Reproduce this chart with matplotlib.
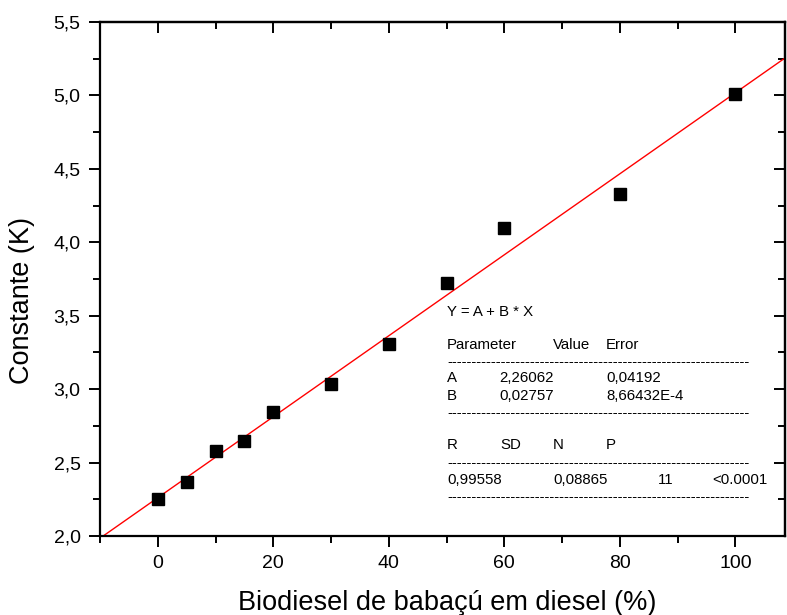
import numpy as np
import matplotlib
matplotlib.use("Agg")
import matplotlib.pyplot as plt
from matplotlib.ticker import MultipleLocator, FuncFormatter

### Data ###
biodiesel = [0, 5, 10, 15, 20, 30, 40, 50, 60, 80, 100]
constante = [2.25, 2.37, 2.58, 2.645, 2.845, 3.035, 3.31, 3.72, 4.10, 4.33, 5.01]

A, B = 2.26062, 0.02757
fit_x = [-10, 110]

table_rows = [
    ("A", "2,26062", "0,04192"),
    ("B", "0,02757", "8,66432E-4"),
]
stats_head = ["R", "SD", "N", "P"]
stats_vals = ["0,99558", "0,08865", "11", "<0.0001"]

plt.rcParams['font.family'] = ['Liberation Sans', 'DejaVu Sans']


def comma(v, pos):
    return ("%.1f" % v).replace(".", ",")


def main():
    fig = plt.figure(figsize=(7.87, 6.15), dpi=100)
    ax = fig.add_axes([100/787, 1 - 536/615, 685/787, 514/615])

    xf = np.array(fit_x, dtype=float)
    ax.plot(xf, A + B * xf, color='red', lw=1.0, zorder=2)
    ax.plot(biodiesel, constante, 's', color='black', ms=8, zorder=3)

    ax.set_xlim(-10, 108.6)
    ax.set_ylim(2.0, 5.5)
    ax.xaxis.set_major_locator(MultipleLocator(20))
    ax.xaxis.set_minor_locator(MultipleLocator(10))
    ax.yaxis.set_major_locator(MultipleLocator(0.5))
    ax.yaxis.set_minor_locator(MultipleLocator(0.25))
    ax.yaxis.set_major_formatter(FuncFormatter(comma))

    for s in ax.spines.values():
        s.set_linewidth(1.6)
    ax.tick_params(which='both', direction='out', width=1.4, labelsize=14,
                   top=False, right=False)
    ax.tick_params(which='major', length=8, pad=6)
    ax.tick_params(which='minor', length=5)
    # inward ticks on top and right
    ax2 = ax.secondary_xaxis('top')
    ax2.xaxis.set_major_locator(MultipleLocator(20))
    ax2.xaxis.set_minor_locator(MultipleLocator(10))
    ax2.tick_params(which='both', direction='in', width=1.4, labeltop=False)
    ax2.tick_params(which='major', length=8)
    ax2.tick_params(which='minor', length=5)
    ax2.spines['top'].set_linewidth(1.6)
    ax3 = ax.secondary_yaxis('right')
    ax3.yaxis.set_major_locator(MultipleLocator(0.5))
    ax3.yaxis.set_minor_locator(MultipleLocator(0.25))
    ax3.tick_params(which='both', direction='in', width=1.4, labelright=False)
    ax3.tick_params(which='major', length=8)
    ax3.tick_params(which='minor', length=5)
    ax3.spines['right'].set_linewidth(1.6)

    ax.set_xlabel('Biodiesel de babaçú em diesel (%)', fontsize=19.5)
    ax.set_ylabel('Constante (K)', fontsize=19.5)
    ax.xaxis.set_label_coords(0.507, -0.105)
    ax.yaxis.set_label_coords(-0.095, 0.459)

    # fit results box
    fs = 10.8
    def t(px, py, s):
        fig.text(px/787, 1 - py/615, s, fontsize=fs, va='center', ha='left')
    dashes = "-" * 62
    t(447, 312, "Y = A + B * X")
    t(447, 345, "Parameter")
    t(553, 345, "Value")
    t(606, 345, "Error")
    t(447, 362, dashes)
    for i, (p, v, e) in enumerate(table_rows):
        y = 378 + 18 * i
        t(447, y, p)
        t(499, y, v)
        t(606, y, e)
    t(447, 413, dashes)
    for px, s in zip([447, 500, 553, 606], stats_head):
        t(px, 445, s)
    t(447, 463, dashes)
    for px, s in zip([447, 553, 658, 712], stats_vals):
        t(px, 480, s)
    t(447, 497, dashes)

    fig.savefig('out.png', dpi=100)


if __name__ == '__main__':
    main()
